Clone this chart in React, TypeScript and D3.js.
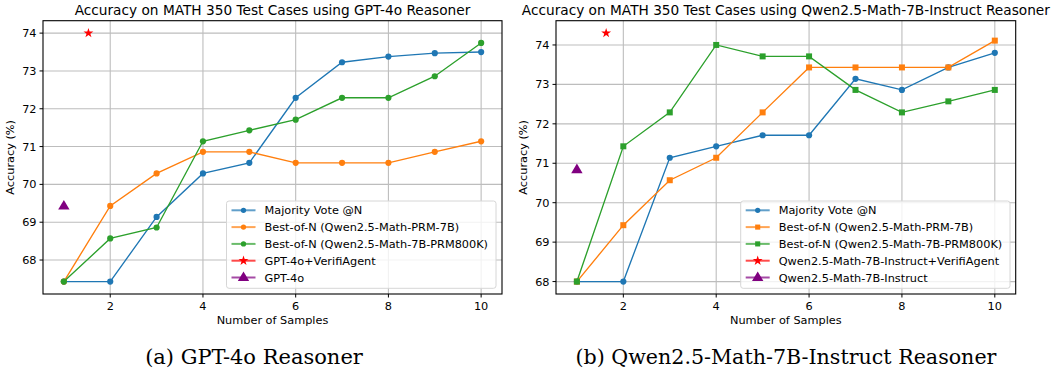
import React from "react";
import * as d3 from "d3";

const samples = [1, 2, 3, 4, 5, 6, 7, 8, 9, 10];

// Panel (a): GPT-4o Reasoner
const aMajority = [67.43, 67.43, 69.14, 70.29, 70.57, 72.29, 73.23, 73.38, 73.47, 73.5];
const aBestPRM7B = [67.43, 69.43, 70.29, 70.86, 70.86, 70.57, 70.57, 70.57, 70.86, 71.14];
const aBestPRM800K = [67.43, 68.57, 68.86, 71.14, 71.43, 71.71, 72.29, 72.29, 72.86, 73.74];
const aVerifi = { x: 1.53, y: 74.0 };
const aBase = { x: 1, y: 69.43 };

// Panel (b): Qwen2.5-Math-7B-Instruct Reasoner
const bMajority = [68.0, 68.0, 71.14, 71.43, 71.71, 71.71, 73.14, 72.86, 73.43, 73.8];
const bBestPRM7B = [68.0, 69.43, 70.57, 71.14, 72.29, 73.43, 73.43, 73.43, 73.43, 74.11];
const bBestPRM800K = [68.0, 71.43, 72.29, 74.0, 73.71, 73.71, 72.86, 72.29, 72.57, 72.86];
const bVerifi = { x: 1.63, y: 74.3 };
const bBase = { x: 1, y: 70.84 };

const xTicks = [2, 4, 6, 8, 10];
const yTicks = [68, 69, 70, 71, 72, 73, 74];

const BLUE = "#1f77b4";
const ORANGE = "#ff7f0e";
const GREEN = "#2ca02c";
const RED = "#ff0000";
const PURPLE = "#800080";

const FONT = "DejaVu Sans, sans-serif";
const FS = 11.3;

type Series = { name: string; values: number[]; color: string; marker: "circle" | "square" };

function starPath(cx: number, cy: number, r: number) {
  const pts: string[] = [];
  for (let i = 0; i < 10; i++) {
    const ang = -Math.PI / 2 + (i * Math.PI) / 5;
    const rr = i % 2 === 0 ? r : r * 0.382;
    pts.push(`${cx + rr * Math.cos(ang)},${cy + rr * Math.sin(ang)}`);
  }
  return "M" + pts.join("L") + "Z";
}
function triPath(cx: number, cy: number, r: number) {
  return `M${cx},${cy - r}L${cx + r * 0.95},${cy + r * 0.6}L${cx - r * 0.95},${cy + r * 0.6}Z`;
}

function Marker({ kind, x, y, color, s = 1 }: { kind: string; x: number; y: number; color: string; s?: number }) {
  if (kind === "circle") return <circle cx={x} cy={y} r={3.1 * s} fill={color} />;
  if (kind === "square") return <rect x={x - 3 * s} y={y - 3 * s} width={6 * s} height={6 * s} fill={color} />;
  if (kind === "star") return <path d={starPath(x, y, 5.2)} fill={color} />;
  return <path d={triPath(x, y, 6)} fill={color} />;
}

function Panel({
  left, right, top, bottom, series, verifi, base, verifiName, baseName, title, legendX, legendW,
}: {
  left: number; right: number; top: number; bottom: number; series: Series[];
  verifi: { x: number; y: number }; base: { x: number; y: number };
  verifiName: string; baseName: string; title: string; legendX: number; legendW: number;
}) {
  const allY = [...series.flatMap((s) => s.values), verifi.y, base.y];
  const yMin = d3.min(allY)!;
  const yMax = d3.max(allY)!;
  const yPad = (yMax - yMin) * 0.05;
  const x = d3.scaleLinear().domain([1 - 0.45, 10 + 0.45]).range([left, right]);
  const y = d3.scaleLinear().domain([yMin - yPad, yMax + yPad]).range([bottom, top]);
  const line = d3.line<number>().x((_, i) => x(samples[i])).y((v) => y(v));
  const cx = (left + right) / 2;
  const cy = (top + bottom) / 2;
  const legendItems = [
    ...series.map((s) => ({ name: s.name, color: s.color, marker: s.marker as string })),
    { name: verifiName, color: RED, marker: "star" },
    { name: baseName, color: PURPLE, marker: "tri" },
  ];
  const ly = 201;
  const lh = 87.3;
  return (
    <g>
      <defs>
        <clipPath id={`clip${left}`}>
          <rect x={left} y={top} width={right - left} height={bottom - top} />
        </clipPath>
      </defs>
      {/* grid */}
      {xTicks.map((t) => (
        <line key={"gx" + t} x1={x(t)} x2={x(t)} y1={top} y2={bottom} stroke="#bdbdbd" strokeWidth={1.1} />
      ))}
      {yTicks.map((t) => (
        <line key={"gy" + t} x1={left} x2={right} y1={y(t)} y2={y(t)} stroke="#bdbdbd" strokeWidth={1.1} />
      ))}
      {/* series */}
      <g clipPath={`url(#clip${left})`}>
        {series.map((s) => (
          <g key={s.name}>
            <path d={line(s.values)!} fill="none" stroke={s.color} strokeWidth={1.35} />
            {s.values.map((v, i) => (
              <Marker key={i} kind={s.marker} x={x(samples[i])} y={y(v)} color={s.color} />
            ))}
          </g>
        ))}
        <Marker kind="star" x={x(verifi.x)} y={y(verifi.y)} color={RED} />
        <Marker kind="tri" x={x(base.x)} y={y(base.y)} color={PURPLE} />
      </g>
      {/* frame */}
      <rect x={left} y={top} width={right - left} height={bottom - top} fill="none" stroke="#000" strokeWidth={1.1} />
      {/* ticks */}
      {xTicks.map((t) => (
        <g key={"xt" + t}>
          <line x1={x(t)} x2={x(t)} y1={bottom} y2={bottom + 3.5} stroke="#000" />
          <text x={x(t)} y={bottom + 15.8} textAnchor="middle" fontSize={FS} fontFamily={FONT}>{t}</text>
        </g>
      ))}
      {yTicks.map((t) => (
        <g key={"yt" + t}>
          <line x1={left - 3.5} x2={left} y1={y(t)} y2={y(t)} stroke="#000" />
          <text x={left - 6.5} y={y(t)} dy="0.36em" textAnchor="end" fontSize={FS} fontFamily={FONT}>{t}</text>
        </g>
      ))}
      {/* labels */}
      <text x={cx} y={bottom + 30} textAnchor="middle" fontSize={FS} fontFamily={FONT}>Number of Samples</text>
      <text transform={`translate(${left - 29},${cy}) rotate(-90)`} textAnchor="middle" fontSize={FS} fontFamily={FONT}>Accuracy (%)</text>
      <text x={cx} y={top - 5.5} textAnchor="middle" fontSize={13.7} fontFamily={FONT}>{title}</text>
      {/* legend */}
      <rect x={legendX} y={ly} width={legendW} height={lh} rx={2.5} fill="#fff" fillOpacity={0.8} stroke="#d6d6d6" strokeWidth={1} />
      {legendItems.map((it, i) => {
        const yy = ly + 9.3 + i * 16.8;
        return (
          <g key={it.name}>
            <line x1={legendX + 5} x2={legendX + 29} y1={yy} y2={yy} stroke={it.color} strokeWidth={2} opacity={0.7} />
            <Marker kind={it.marker} x={legendX + 17} y={yy} color={it.color} s={0.85} />
            <text x={legendX + 38} y={yy} dy="0.36em" fontSize={FS} fontFamily={FONT}>{it.name}</text>
          </g>
        );
      })}
    </g>
  );
}

export default function App() {
  const seriesA: Series[] = [
    { name: "Majority Vote @N", values: aMajority, color: BLUE, marker: "circle" },
    { name: "Best-of-N (Qwen2.5-Math-PRM-7B)", values: aBestPRM7B, color: ORANGE, marker: "circle" },
    { name: "Best-of-N (Qwen2.5-Math-7B-PRM800K)", values: aBestPRM800K, color: GREEN, marker: "circle" },
  ];
  const seriesB: Series[] = [
    { name: "Majority Vote @N", values: bMajority, color: BLUE, marker: "circle" },
    { name: "Best-of-N (Qwen2.5-Math-PRM-7B)", values: bBestPRM7B, color: ORANGE, marker: "square" },
    { name: "Best-of-N (Qwen2.5-Math-7B-PRM800K)", values: bBestPRM800K, color: GREEN, marker: "square" },
  ];
  return (
    <svg width={1054} height={369} style={{ position: "absolute", left: 0, top: 0, background: "#fff" }}>
      <rect width={1054} height={369} fill="#fff" />
      <Panel
        left={43} right={502} top={20.7} bottom={294}
        series={seriesA} verifi={aVerifi} base={aBase}
        verifiName="GPT-4o+VerifiAgent" baseName="GPT-4o"
        title="Accuracy on MATH 350 Test Cases using GPT-4o Reasoner"
        legendX={226.5} legendW={269.5}
      />
      <Panel
        left={556} right={1015.7} top={20.7} bottom={294}
        series={seriesB} verifi={bVerifi} base={bBase}
        verifiName="Qwen2.5-Math-7B-Instruct+VerifiAgent" baseName="Qwen2.5-Math-7B-Instruct"
        title="Accuracy on MATH 350 Test Cases using Qwen2.5-Math-7B-Instruct Reasoner"
        legendX={740.7} legendW={269.3}
      />
      <text x={254} y={364} textAnchor="middle" fontSize={21} fontFamily="DejaVu Serif, serif">(a) GPT-4o Reasoner</text>
      <text x={786} y={364} textAnchor="middle" fontSize={20.6} fontFamily="DejaVu Serif, serif">(b) Qwen2.5-Math-7B-Instruct Reasoner</text>
    </svg>
  );
}
